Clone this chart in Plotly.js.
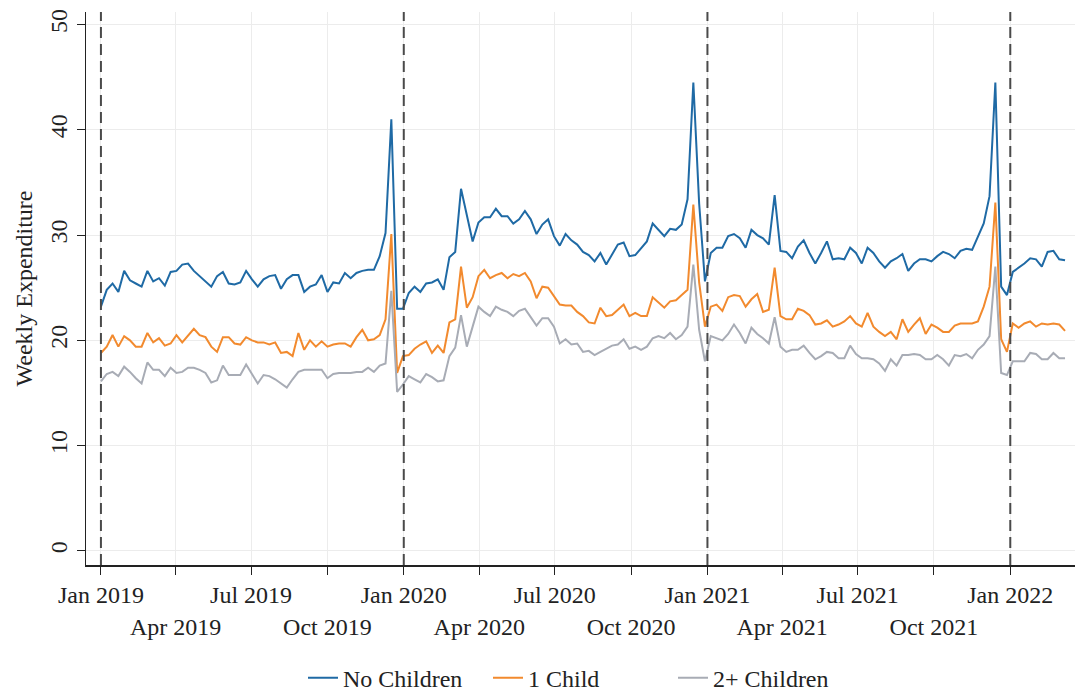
<!DOCTYPE html>
<html>
<head>
<meta charset="utf-8">
<script src="https://cdn.plot.ly/plotly-3.0.1.min.js"></script>
<style>html,body{margin:0;padding:0;background:#fff;}#chart{width:1078px;height:692px;}</style>
</head>
<body>
<div id="chart"></div>
<script>
// Weekly series, first week starting 2019-01-01, one point every 7 days
const firstWeek = '2019-01-01';

const noChildren = [
  23.2, 24.8, 25.4, 24.6, 26.6, 25.7, 25.4, 25.1, 26.6, 25.6,
  25.9, 25.2, 26.5, 26.6, 27.2, 27.3, 26.6, 26.1, 25.6, 25.1,
  26.1, 26.5, 25.4, 25.3, 25.5, 26.6, 25.8, 25.1, 25.8, 26.1,
  26.2, 24.9, 25.8, 26.2, 26.2, 24.6, 25.1, 25.3, 26.2, 24.6,
  25.5, 25.4, 26.4, 25.9, 26.4, 26.6, 26.7, 26.7, 28.0, 30.2,
  41.0,
  23.0, 23.0, 24.5, 25.1, 24.6, 25.4, 25.5, 25.8, 24.8, 27.9,
  28.4, 34.4, 31.8, 29.4, 31.2, 31.7, 31.7, 32.5, 31.8, 31.8,
  31.1, 31.5, 32.3, 31.5, 30.1, 31.0, 31.5, 29.9, 29.0, 30.1,
  29.5, 29.1, 28.4, 28.1, 27.5, 28.3, 27.2, 28.1, 29.1, 29.3,
  28.0, 28.1, 28.8, 29.4, 31.1, 30.5, 29.9, 30.6, 30.5, 31.0,
  33.4, 44.5,
  33.0,
  25.6, 28.3, 28.8, 28.8, 29.9, 30.1, 29.7, 28.8, 30.5, 30.0,
  29.7, 29.1, 33.8, 28.5, 28.4, 27.8, 28.9, 29.5, 28.3, 27.3,
  28.3, 29.4, 27.7, 27.8, 27.7, 28.8, 28.3, 27.3, 28.8, 28.3,
  27.5, 26.9, 27.5, 27.8, 28.2, 26.6, 27.3, 27.7, 27.7, 27.5,
  28.0, 28.4, 28.2, 27.8, 28.5, 28.7, 28.6, 29.9, 31.1, 33.7,
  44.5,
  25.1, 24.3, 26.5, 26.9, 27.3, 27.8, 27.7, 27.0, 28.4, 28.5, 27.7, 27.6
];

const oneChild = [
  18.8, 19.4, 20.5, 19.4, 20.4, 20.0, 19.4, 19.4, 20.7, 19.8,
  20.2, 19.5, 19.7, 20.5, 19.8, 20.4, 21.1, 20.5, 20.3, 19.4,
  18.9, 20.3, 20.3, 19.7, 19.6, 20.3, 20.0, 19.8, 19.8, 19.6,
  19.8, 18.8, 18.9, 18.5, 20.7, 19.1, 20.0, 19.4, 19.9, 19.4,
  19.6, 19.7, 19.7, 19.4, 20.3, 21.0, 20.0, 20.1, 20.5, 22.0,
  30.1,
  16.9, 18.5, 18.6, 19.2, 19.6, 19.9, 18.8, 19.5, 18.8, 21.7,
  22.0, 27.0, 23.1, 24.1, 26.1, 26.7, 25.9, 26.2, 26.4, 25.9,
  26.3, 26.1, 26.4, 25.6, 24.0, 25.1, 25.0, 24.2, 23.4, 23.3,
  23.3, 22.7, 22.3, 21.7, 21.6, 23.1, 22.3, 22.4, 22.9, 23.4,
  22.3, 22.6, 22.3, 22.3, 24.1, 23.6, 23.1, 23.7, 23.8, 24.3,
  24.8, 32.9,
  25.5,
  21.3, 23.2, 23.4, 22.8, 24.1, 24.3, 24.2, 23.2, 23.9, 24.4,
  22.7, 22.9, 26.9, 22.3, 22.0, 22.0, 23.0, 22.8, 22.4, 21.5,
  21.6, 21.9, 21.3, 21.5, 21.8, 22.3, 21.6, 21.3, 22.6, 21.3,
  20.8, 20.4, 20.8, 20.1, 22.0, 20.8, 21.5, 22.1, 20.6, 21.5,
  21.2, 20.8, 20.8, 21.4, 21.6, 21.6, 21.6, 21.8, 23.2, 25.1,
  33.1,
  20.1, 18.9, 21.6, 21.2, 21.6, 21.8, 21.3, 21.6, 21.5, 21.6, 21.5, 20.9
];

const twoPlusChildren = [
  16.1, 16.8, 17.0, 16.6, 17.5, 17.0, 16.4, 15.9, 17.9, 17.2,
  17.2, 16.6, 17.4, 16.9, 17.0, 17.4, 17.4, 17.2, 16.9, 16.0,
  16.2, 17.6, 16.7, 16.7, 16.7, 17.7, 16.8, 15.9, 16.7, 16.6,
  16.3, 15.9, 15.5, 16.3, 17.0, 17.2, 17.2, 17.2, 17.2, 16.4,
  16.8, 16.9, 16.9, 16.9, 17.0, 17.0, 17.4, 17.0, 17.6, 17.8,
  24.7,
  15.1, 15.8, 16.6, 16.3, 16.0, 16.8, 16.5, 16.1, 16.2, 18.5,
  19.3, 22.4, 19.4, 21.3, 23.2, 22.7, 22.3, 23.2, 22.9, 22.7,
  22.3, 22.8, 23.0, 22.2, 21.4, 22.1, 22.1, 21.3, 19.7, 20.1,
  19.6, 19.7, 18.9, 19.0, 18.6, 18.9, 19.2, 19.5, 19.6, 20.1,
  19.2, 19.4, 19.1, 19.4, 20.2, 20.4, 20.2, 20.7, 20.1, 20.5,
  21.3, 27.2,
  21.0,
  18.0, 20.4, 20.2, 20.0, 20.6, 21.5, 20.7, 19.7, 21.2, 20.6,
  20.2, 19.7, 22.2, 19.4, 18.9, 19.1, 19.1, 19.5, 18.8, 18.2,
  18.5, 18.9, 18.8, 18.3, 18.3, 19.5, 18.7, 18.3, 18.3, 18.2,
  17.8, 17.1, 18.2, 17.6, 18.6, 18.6, 18.7, 18.6, 18.2, 18.2,
  18.6, 18.2, 17.6, 18.6, 18.5, 18.7, 18.3, 19.1, 19.6, 20.4,
  27.0,
  16.9, 16.7, 18.0, 18.0, 18.0, 18.8, 18.7, 18.2, 18.2, 18.8, 18.3, 18.3
];

const tickDates = ['2019-01-01','2019-04-01','2019-07-01','2019-10-01',
                   '2020-01-01','2020-04-01','2020-07-01','2020-10-01',
                   '2021-01-01','2021-04-01','2021-07-01','2021-10-01',
                   '2022-01-01'];
const tickLabels = ['Jan 2019',' <br>Apr 2019','Jul 2019',' <br>Oct 2019',
                    'Jan 2020',' <br>Apr 2020','Jul 2020',' <br>Oct 2020',
                    'Jan 2021',' <br>Apr 2021','Jul 2021',' <br>Oct 2021',
                    'Jan 2022'];
const yearStarts = ['2019-01-01','2020-01-01','2021-01-01','2022-01-01'];
const seriesNames = ['No Children','1 Child','2+ Children'];
const seriesColors = ['#1f6aa5','#f28a2e','#a8acb5'];

function weekDates(start, n) {
  const out = [];
  const t0 = Date.parse(start + 'T00:00:00Z');
  for (let i = 0; i < n; i++) {
    out.push(new Date(t0 + i * 7 * 86400000).toISOString().slice(0, 10));
  }
  return out;
}
const dates = weekDates(firstWeek, noChildren.length);

const allSeries = [noChildren, oneChild, twoPlusChildren];
const traces = allSeries.map((ys, k) => ({
  type: 'scatter', mode: 'lines', x: dates, y: ys, name: seriesNames[k],
  line: {color: seriesColors[k], width: 2}, hoverinfo: 'x+y'
}));

const shapes = yearStarts.map(d => ({
  type: 'line', xref: 'x', yref: 'paper', x0: d, x1: d, y0: 0, y1: 1,
  line: {color: '#4a4a4a', width: 2, dash: '11px,6px'}, layer: 'above'
}));

const serif = 'Liberation Serif, Times New Roman, serif';
const fs = 24;
const layout = {
  width: 1078, height: 692,
  margin: {l: 86, r: 3, t: 12, b: 127},
  paper_bgcolor: '#fff', plot_bgcolor: '#fff',
  font: {family: serif, size: fs, color: '#222'},
  showlegend: true,
  legend: {orientation: 'h', x: 0.5, xanchor: 'center', yref: 'container', y: 0.02, yanchor: 'middle',
           font: {family: serif, size: fs, color: '#222'}, itemwidth: 30,
           entrywidth: 140, entrywidthmode: 'pixels'},
  xaxis: {
    type: 'date', range: ['2018-12-14', '2022-03-20'],
    tickvals: tickDates, ticktext: tickLabels, tickangle: 0,
    ticks: 'outside', ticklen: 8, tickcolor: '#222', tickwidth: 1,
    showline: true, linecolor: '#222', linewidth: 1.5,
    showgrid: true, gridcolor: '#ececec', gridwidth: 1,
    zeroline: false, tickfont: {family: serif, size: fs, color: '#222'}
  },
  yaxis: {
    range: [-1.35, 51.2], tickvals: [0, 10, 20, 30, 40, 50],
    tickangle: -90, ticks: 'outside', ticklen: 8, tickcolor: '#222',
    showline: true, linecolor: '#222', linewidth: 1.5,
    showgrid: true, gridcolor: '#ececec', gridwidth: 1, zeroline: false,
    tickfont: {family: serif, size: fs, color: '#222'},
    title: {text: 'Weekly Expenditure', font: {family: serif, size: fs, color: '#222'}, standoff: 6}
  },
  shapes: shapes
};

Plotly.newPlot('chart', traces, layout, {displayModeBar: false, staticPlot: true});
</script>
</body>
</html>
